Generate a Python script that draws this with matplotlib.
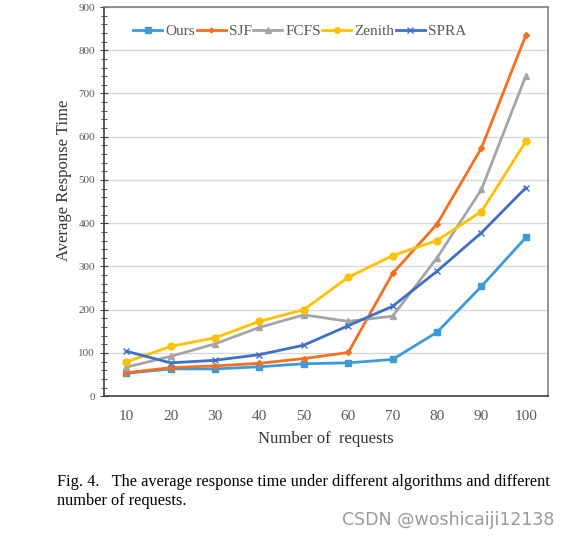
import numpy as np
import matplotlib
matplotlib.use('Agg')
import matplotlib.pyplot as plt
from matplotlib.ticker import MultipleLocator

requests = [10, 20, 30, 40, 50, 60, 70, 80, 90, 100]
ours = [53, 63, 63, 68, 75, 77, 85, 148, 254, 367]
sjf = [54, 66, 70, 76, 87, 101, 284, 398, 574, 835]
fcfs = [67, 92, 121, 159, 188, 173, 185, 320, 478, 741]
zenith = [79, 115, 135, 173, 200, 275, 325, 360, 427, 589]
spra = [104, 77, 83, 96, 118, 163, 208, 289, 378, 482]

plt.rcParams['font.family'] = ['Liberation Serif', 'DejaVu Serif']

fig = plt.figure(figsize=(5.73, 5.39), dpi=100)
ax = fig.add_axes([0.1815, 0.265, 0.775, 0.722])

x = np.arange(len(requests))
ax.plot(x, ours, color='#3d9ad9', marker='s', ms=5, lw=2, label='Ours')
ax.plot(x, sjf, color='#f47020', marker='D', ms=3, lw=2, label='SJF')
ax.plot(x, fcfs, color='#a5a5a5', marker='^', ms=5, lw=2, label='FCFS')
ax.plot(x, zenith, color='#ffc000', marker='o', ms=5, lw=2, label='Zenith')
ax.plot(x, spra, color='#3f6fc6', marker='x', ms=5, mew=1, lw=2, label='SPRA')

ax.set_xlim(-0.5, len(requests) - 0.5)
ax.set_ylim(0, 900)
ax.set_xticks(x)
ax.set_xticklabels([str(r) for r in requests])
ax.yaxis.set_major_locator(MultipleLocator(100))
ax.yaxis.set_minor_locator(MultipleLocator(20))
ax.grid(axis='y', color='#d9d9d9', lw=1)
ax.set_axisbelow(True)
ax.tick_params(axis='x', length=0, labelsize=11, colors='#595959', pad=10)
ax.tick_params(axis='y', which='major', direction='inout', length=6, labelsize=8, colors='#404040', labelcolor='#595959')
ax.tick_params(axis='y', which='minor', direction='inout', length=4, colors='#404040')
for s in ['left', 'bottom']:
    ax.spines[s].set_color('#404040')
    ax.spines[s].set_linewidth(1.2)
for s in ['top', 'right']:
    ax.spines[s].set_color('#808080')
    ax.spines[s].set_linewidth(1.2)

ax.set_ylabel('Average Response Time', fontsize=12, color='#333333')
ax.yaxis.set_label_coords(-0.072, 0.555)
ax.set_xlabel('Number of  requests', fontsize=12, labelpad=6, color='#333333')

ax.legend(loc='upper left', bbox_to_anchor=(0.035, 0.99), ncol=5, frameon=False,
          fontsize=11, handlelength=1.9, handletextpad=0.2, columnspacing=0.1,
          labelcolor='#595959', markerscale=0.8)

fig.text(0.1, 0.088, 'Fig. 4.   The average response time under different algorithms and different\nnumber of requests.',
         fontsize=11.8, va='center', ha='left', linespacing=1.25)
fig.text(0.968, 0.035, 'CSDN @woshicaiji12138', fontsize=12.5, color='#9a9a9a',
         ha='right', va='center', family=['DejaVu Sans'])

fig.savefig('out.png', dpi=100)
